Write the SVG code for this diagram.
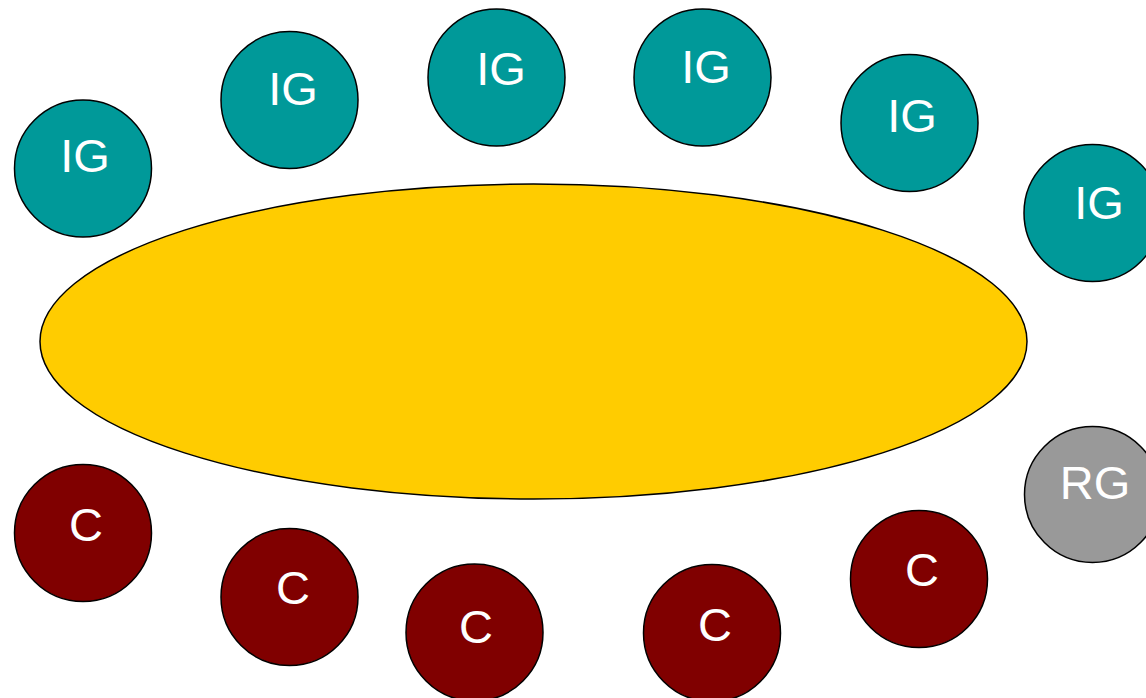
<svg xmlns="http://www.w3.org/2000/svg" width="1146" height="698" viewBox="0 0 1146 698">
<style>
.n{stroke:#000;stroke-width:1.5}
.ig{fill:#009999}
.c{fill:#800000}
.rg{fill:#999999}
text{font-family:"Liberation Sans",Arial,sans-serif;font-size:47px;fill:#fff;text-anchor:middle}
</style>
<rect width="1146" height="698" fill="#fff"/>
<g id="center"><ellipse class="n" cx="533.5" cy="341.5" rx="493.5" ry="157.5" fill="#FFCC00"/></g>
<g id="connectors"></g>
<g id="ig1"><circle class="n ig" cx="83" cy="168.5" r="68.5"/><text x="85" y="172">IG</text></g>
<g id="ig2"><circle class="n ig" cx="289.5" cy="100" r="68.5"/><text x="293" y="105">IG</text></g>
<g id="ig3"><circle class="n ig" cx="496.5" cy="77.5" r="68.5"/><text x="501" y="85">IG</text></g>
<g id="ig4"><circle class="n ig" cx="702.5" cy="77.5" r="68.5"/><text x="706" y="83">IG</text></g>
<g id="ig5"><circle class="n ig" cx="909.5" cy="123" r="68.5"/><text x="912" y="132">IG</text></g>
<g id="ig6"><circle class="n ig" cx="1092.5" cy="213" r="68.5"/><text x="1099" y="219">IG</text></g>
<g id="rg"><circle class="n rg" cx="1092.5" cy="494.5" r="68"/><text x="1095" y="499">RG</text></g>
<g id="c1"><circle class="n c" cx="83" cy="533" r="68.5"/><text x="86" y="541">C</text></g>
<g id="c2"><circle class="n c" cx="289.5" cy="597" r="68.5"/><text x="293" y="604">C</text></g>
<g id="c3"><circle class="n c" cx="474.5" cy="632.5" r="68.5"/><text x="476" y="643">C</text></g>
<g id="c4"><circle class="n c" cx="712" cy="633" r="68.5"/><text x="715" y="641">C</text></g>
<g id="c5"><circle class="n c" cx="919" cy="579" r="68.5"/><text x="922" y="586">C</text></g>
</svg>
